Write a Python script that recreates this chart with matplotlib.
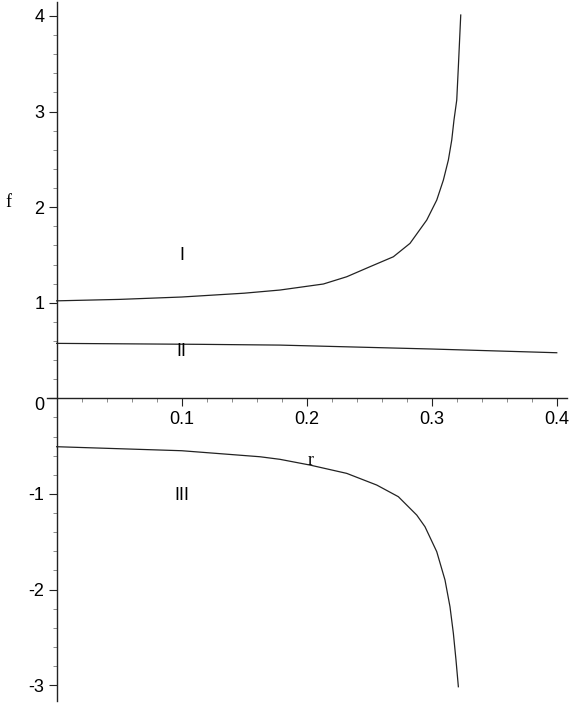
import numpy as np
import matplotlib
matplotlib.use("Agg")
import matplotlib.pyplot as plt
from matplotlib.transforms import ScaledTranslation

# branch I (upper)
r_1 = [0, 0.05, 0.1, 0.15, 0.1786, 0.2133, 0.232, 0.2506, 0.2693, 0.2826,
       0.296, 0.304, 0.3093, 0.3133, 0.316, 0.3178, 0.32, 0.3213, 0.3232]
f_1 = [1.02, 1.035, 1.06, 1.10, 1.133, 1.196, 1.272, 1.377, 1.481, 1.621,
       1.865, 2.074, 2.283, 2.493, 2.702, 2.912, 3.12, 3.47, 4.01]

# branch II (middle)
r_2 = [0, 0.1146, 0.1786, 0.3, 0.4]
f_2 = [0.575, 0.565, 0.557, 0.516, 0.477]

# branch III (lower)
r_3 = [0, 0.1, 0.1626, 0.1786, 0.2026, 0.232, 0.256, 0.2733, 0.288, 0.2946,
       0.304, 0.3106, 0.3146, 0.3173, 0.3194, 0.3213]
f_3 = [-0.506, -0.548, -0.611, -0.638, -0.698, -0.785, -0.907, -1.029, -1.221,
       -1.343, -1.604, -1.90, -2.18, -2.458, -2.737, -3.017]

x_ticks = [0.1, 0.2, 0.3, 0.4]
x_labels = ["0.1", "0.2", "0.3", "0.4"]
y_ticks = [-3, -2, -1, 0, 1, 2, 3, 4]
y_labels = ["-3", "-2", "-1", "0", "1", "2", "3", "4"]

sans = "Liberation Sans"
serif = "Liberation Serif"
ink = "#222222"

fig = plt.figure(figsize=(5.71, 7.03), dpi=100)
ax = fig.add_axes([0.0823, 0.003, 0.9107, 0.994])

for r, f in [(r_1, f_1), (r_2, f_2), (r_3, f_3)]:
    ax.plot(r, f, color=ink, linewidth=0.9)

ax.set_xlim(-0.00776, 0.4082)
ax.set_ylim(-3.165, 4.145)

for side in ["top", "right"]:
    ax.spines[side].set_visible(False)
ax.spines["left"].set_position(("data", 0))
ax.spines["bottom"].set_position(("data", 0))
for side in ["left", "bottom"]:
    ax.spines[side].set_color(ink)
    ax.spines[side].set_linewidth(1.0)

ax.set_xticks(x_ticks)
ax.set_xticklabels(x_labels, fontfamily=sans, fontsize=13)
ax.set_yticks(y_ticks)
ax.set_yticklabels(y_labels, fontfamily=sans, fontsize=13)
ax.set_xticks(np.arange(0.02, 0.41, 0.02), minor=True)
ax.set_yticks(np.arange(-3.0, 4.01, 0.2), minor=True)
ax.tick_params(which="major", length=6, width=0.8, color=ink, pad=3)
ax.tick_params(which="minor", length=3, width=0.6, color="#777777")

# the origin label sits a bit lower than its tick
for lab in ax.get_yticklabels():
    if lab.get_text() == "0":
        lab.set_transform(lab.get_transform() +
                          ScaledTranslation(0, -5 / 100, fig.dpi_scale_trans))

ax.text(0.1, 1.49, "I", fontfamily=sans, fontsize=13, ha="center", va="center")
ax.text(0.1, 0.485, "II", fontfamily=sans, fontsize=13, ha="center", va="center")
ax.text(0.1, -1.02, "III", fontfamily=sans, fontsize=13, ha="center", va="center")
ax.text(0.2035, -0.65, "r", fontfamily=serif, fontsize=13, ha="center", va="center")
fig.text(8 / 571, 1 - 203 / 703, "f", fontfamily=serif, fontsize=13,
         ha="center", va="center")

fig.savefig("out.png", dpi=100)
